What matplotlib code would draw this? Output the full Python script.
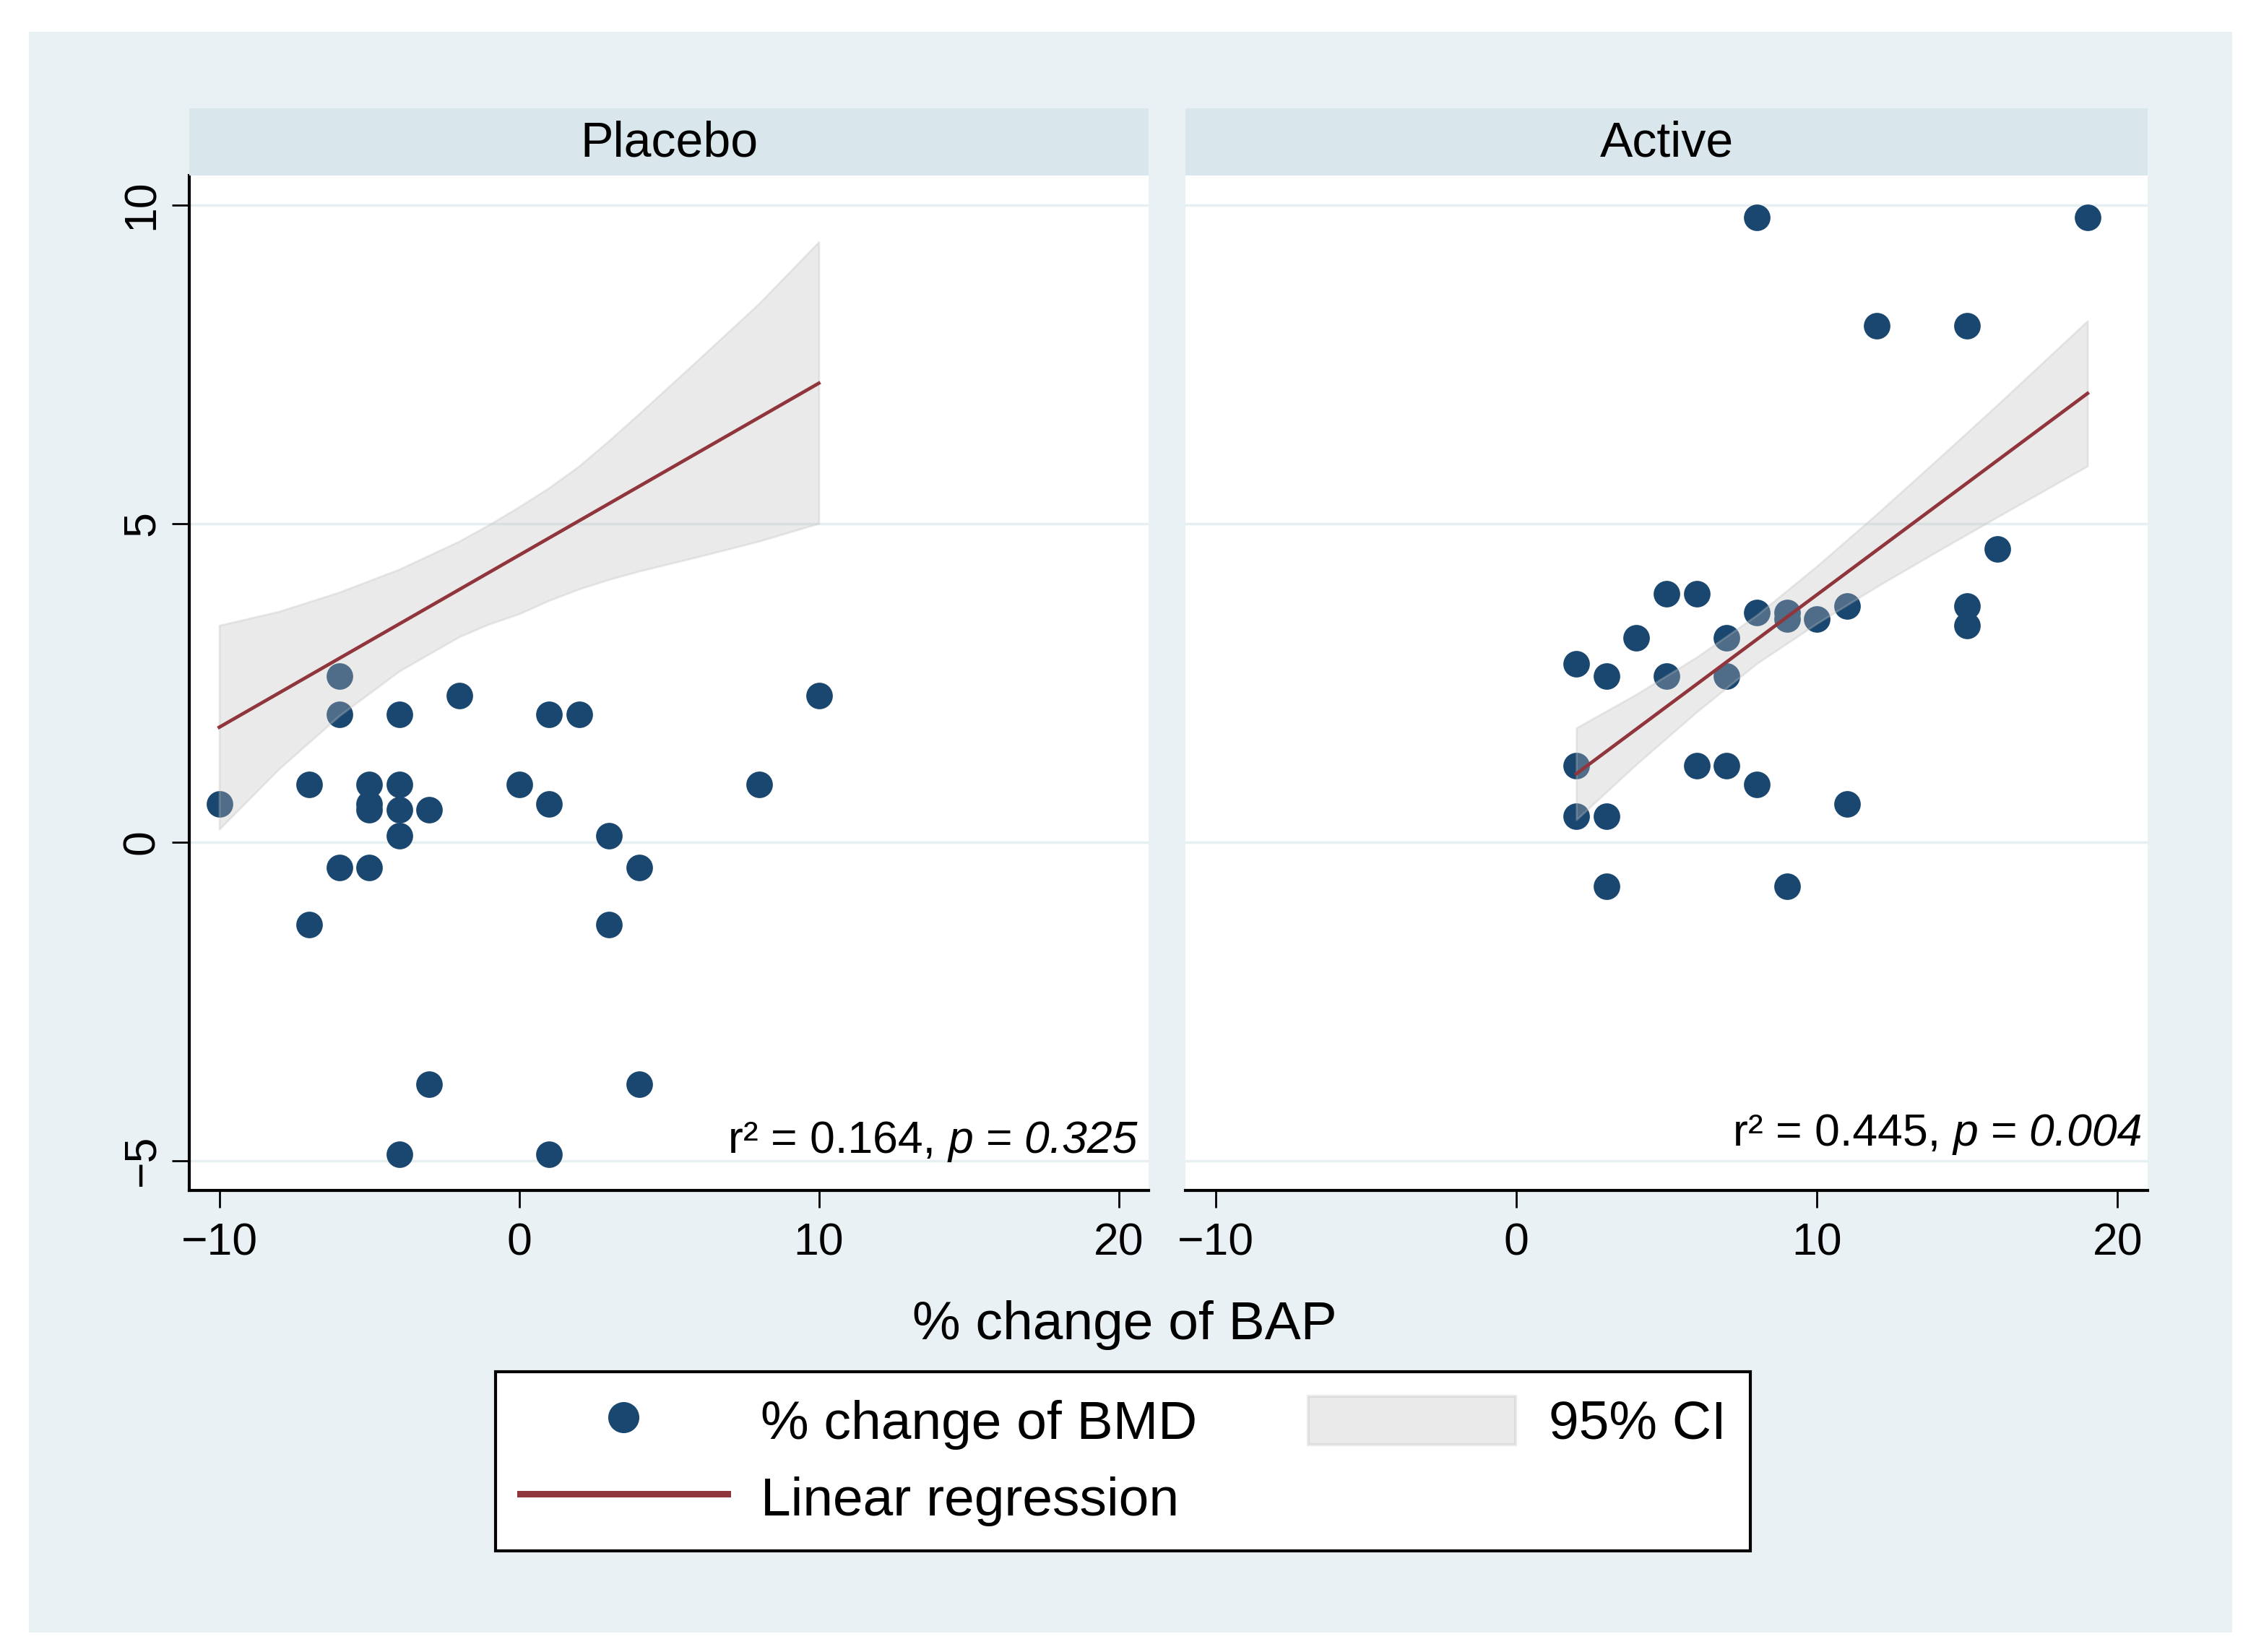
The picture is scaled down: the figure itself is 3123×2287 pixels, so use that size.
import matplotlib
matplotlib.use('agg')
import matplotlib.pyplot as plt
from matplotlib.patches import Rectangle, Patch
from matplotlib.lines import Line2D

plt.rcParams['font.family'] = ['Liberation Sans', 'DejaVu Sans']

# data
placebo_x = [-10, -7, -7, -6, -6, -6, -5, -5, -5, -5, -4, -4, -4, -4, -4,
             -3, -3, -2, 0, 1, 1, 1, 2, 3, 3, 4, 4, 8, 10]
placebo_y = [0.6, 0.9, -1.3, 2.6, 2.0, -0.4, 0.9, 0.6, 0.5, -0.4, 2.0, 0.9, 0.5, 0.1, -4.9,
             0.5, -3.8, 2.3, 0.9, 2.0, 0.6, -4.9, 2.0, 0.1, -1.3, -0.4, -3.8, 0.9, 2.3]
active_x = [2, 2, 2, 3, 3, 3, 4, 5, 5, 6, 6, 7, 7, 7, 8, 8, 8,
            9, 9, 9, 10, 11, 11, 12, 15, 15, 15, 16, 19]
active_y = [2.8, 1.2, 0.4, 2.6, 0.4, -0.7, 3.2, 3.9, 2.6, 3.9, 1.2, 3.2, 2.6, 1.2, 9.8, 3.6, 0.9,
            3.6, 3.5, -0.7, 3.5, 3.7, 0.6, 8.1, 8.1, 3.7, 3.4, 4.6, 9.8]

# regression lines (end points) and 95% CI bands
fit_x_pla = [-10, 10]
fit_y_pla = [1.8, 7.2]
fit_x_act = [2, 19]
fit_y_act = [1.07, 7.04]

ci_x_pla = [-10, -8, -6, -4, -2, -1, 0, 1, 2, 3, 4, 6, 8, 10]
ci_hi_pla = [3.40, 3.62, 3.92, 4.28, 4.72, 4.98, 5.26, 5.56, 5.90, 6.30, 6.72, 7.58, 8.45, 9.42]
ci_lo_pla = [0.20, 1.15, 1.98, 2.68, 3.22, 3.42, 3.58, 3.79, 3.97, 4.12, 4.25, 4.48, 4.72, 5.00]
ci_x_act = [2, 4, 6, 8, 10, 12, 14, 16, 19]
ci_hi_act = [1.79, 2.32, 2.90, 3.56, 4.33, 5.15, 6.00, 6.86, 8.18]
ci_lo_act = [0.35, 1.22, 2.04, 2.80, 3.43, 4.01, 4.56, 5.10, 5.90]

panels = ['Placebo', 'Active']
r2_txt = ['r² = 0.164, ', 'r² = 0.445, ']
p_txt = ['p = 0.325', 'p = 0.004']
xticks = [-10, 0, 10, 20]
yticks = [-5, 0, 5, 10]

navy = '#1a476f'
maroon = '#90353b'
band = '#c0c0c0'
bg = '#e9f1f4'
strip = '#d9e6eb'
gridc = '#e6eff2'

W, H = 3123, 2287


def rect(x0, y0, x1, y1):
    return [x0 / W, 1 - y1 / H, (x1 - x0) / W, (y1 - y0) / H]


fig = plt.figure(figsize=(W / 100, H / 100), dpi=100)
fig.patch.set_facecolor('white')
fig.add_artist(Rectangle((40 / W, 1 - 2260 / H), 3050 / W, 2216 / H,
                         transform=fig.transFigure, facecolor=bg,
                         edgecolor='none', zorder=-5))

boxes = [(262, 243, 1590, 1648), (1641, 243, 2973, 1648)]
data = [(placebo_x, placebo_y, fit_x_pla, fit_y_pla, ci_x_pla, ci_lo_pla, ci_hi_pla),
        (active_x, active_y, fit_x_act, fit_y_act, ci_x_act, ci_lo_act, ci_hi_act)]
stat_pos = [(20.64, -5.03), (20.83, -4.92)]

for i in range(2):
    x0, y0, x1, y1 = boxes[i]
    px, py, fx, fy, cx, clo, chi = data[i]

    ax = fig.add_axes(rect(x0, y0, x1, y1))
    ax.set_facecolor('white')
    ax.scatter(px, py, s=700, color=navy, linewidths=0, zorder=2)
    ax.fill_between(cx, clo, chi, facecolor=band, edgecolor=band,
                    alpha=0.32, linewidth=2, zorder=3)
    ax.plot(fx, fy, color=maroon, linewidth=3.4, zorder=4)

    ax.set_xlim(-11, 21)
    ax.set_ylim(-5.47, 10.46)
    ax.set_xticks(xticks)
    ax.set_yticks(yticks)
    ax.set_axisbelow(True)
    ax.yaxis.grid(True, color=gridc, linewidth=2.5)
    for s in ['top', 'right']:
        ax.spines[s].set_visible(False)
    ax.spines['bottom'].set_linewidth(3)
    ax.spines['left'].set_linewidth(3)
    ax.tick_params(axis='both', direction='out', length=17, width=2,
                   labelsize=45, color='black')
    ax.tick_params(axis='x', pad=14)
    ax.tick_params(axis='y', pad=9)
    if i == 0:
        plt.setp(ax.get_yticklabels(), rotation=90, va='center')
    else:
        ax.spines['left'].set_visible(False)
        ax.tick_params(axis='y', left=False, labelleft=False)

    # r² part upright, p part italic
    sx, sy = stat_pos[i]
    t_it = ax.text(sx, sy, p_txt[i], ha='right', va='bottom', fontsize=45,
                   fontstyle='italic', zorder=5)
    ax.annotate(r2_txt[i], xy=(0, 0), xycoords=t_it, ha='right', va='bottom',
                fontsize=45, zorder=5)

    sax = fig.add_axes(rect(x0, 150, x1, 243))
    sax.set_facecolor(strip)
    sax.set_xticks([])
    sax.set_yticks([])
    for s in sax.spines.values():
        s.set_visible(False)
    sax.text(0.5, 0.28, panels[i], ha='center', va='baseline',
             fontsize=49, transform=sax.transAxes)

fig.text(1557 / W, 1 - 1854 / H, '% change of BAP', ha='center',
         va='baseline', fontsize=54)

h_pts = Line2D([], [], marker='o', linestyle='none', markersize=31,
               markerfacecolor=navy, markeredgecolor='none')
h_line = Line2D([], [], color=maroon, linewidth=6.5)
h_band = Patch(facecolor=band, edgecolor=band, alpha=0.32, linewidth=3)
leg = fig.legend(handles=[h_pts, h_line, h_band],
                 labels=['% change of BMD', 'Linear regression', '95% CI'],
                 ncol=2, loc='upper left',
                 bbox_to_anchor=(686 / W, 1 - 1899 / H),
                 bbox_transform=fig.transFigure, borderaxespad=0,
                 fontsize=54, frameon=True, fancybox=False,
                 edgecolor='black', framealpha=1, facecolor='white',
                 handlelength=3.83, handletextpad=0.61, columnspacing=2.05,
                 borderpad=0.45, labelspacing=0.42, handleheight=1.0)
leg.get_frame().set_linewidth(3)

plt.savefig('out.png', dpi=100)
plt.close()
